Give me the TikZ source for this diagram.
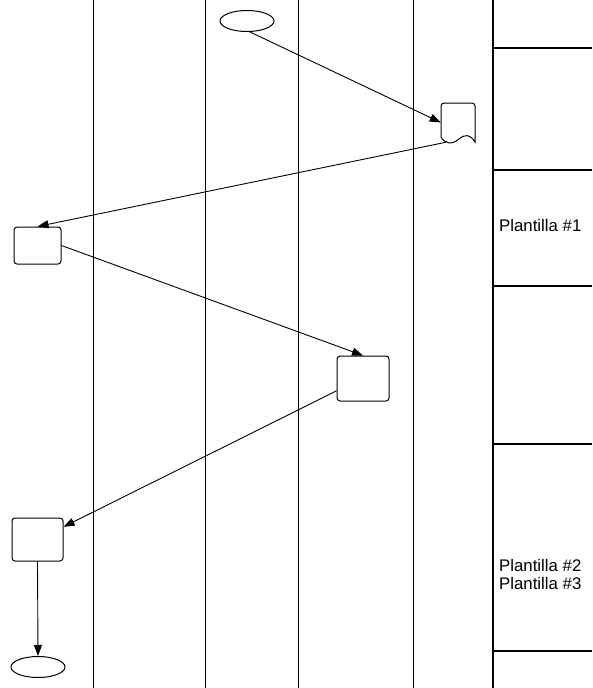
\documentclass[tikz,border=0pt]{standalone}
\usepackage{fontspec}
\setmainfont{Liberation Sans}
\usetikzlibrary{arrows.meta,shapes.geometric}
\begin{document}
\begin{tikzpicture}[x=1pt,y=-1pt,
  lane/.style={line width=0.9pt},
  thickline/.style={line width=1.8pt},
  proc/.style={draw,rounded corners=3pt,line width=1pt,inner sep=0pt},
  term/.style={draw,ellipse,line width=1pt,inner sep=0pt,minimum width=54pt,minimum height=21pt},
  conn/.style={line width=0.9pt,-{Triangle[length=11pt,width=8pt]}},
  lbl/.style={font=\fontsize{16.8}{17.5}\selectfont,anchor=west,align=left,inner sep=0pt}]
\useasboundingbox (0,0) rectangle (592,688);
% swimlanes
\foreach \x in {93,205,298,413} \draw[lane] (\x,0) -- (\x,688);
\draw[thickline] (493,0) -- (493,688);
\foreach \y in {48,170,286,444,651} \draw[thickline] (493,\y) -- (592,\y);
% labels
\node[lbl] (l1) at (499,225) {Plantilla \#1};
\node[lbl] (l2) at (499,574.5) {Plantilla \#2\\Plantilla \#3};
% nodes
\node[term] (e1) at (247,21) {};
\node[inner sep=0pt,minimum width=34pt,minimum height=39pt] (doc) at (458,122.5) {};
\draw[line width=1pt] (441,137) [rounded corners=3pt] -- (441,103) -- (475,103) [sharp corners] -- (475,142)
  .. controls (470,134) and (465,134) .. (459,139)
  .. controls (452,145) and (445,144) .. (441,137) -- cycle;
\node[proc,minimum width=47pt,minimum height=37pt] (r1) at (37.5,245.5) {};
\node[proc,minimum width=52pt,minimum height=45pt] (r2) at (363,378.5) {};
\node[proc,minimum width=51pt,minimum height=43pt] (r3) at (37.5,539.5) {};
\node[term] (e2) at (38,667) {};
% connectors
\draw[conn] (e1.-75) -- (doc.west);
\draw[conn] (doc.239) -- (r1.north);
\draw[conn] (r1.east) -- (r2.north);
\draw[conn] (r2.205) -- (r3.26);
\draw[conn] (r3.south) -- (e2.north);
\end{tikzpicture}
\end{document}
